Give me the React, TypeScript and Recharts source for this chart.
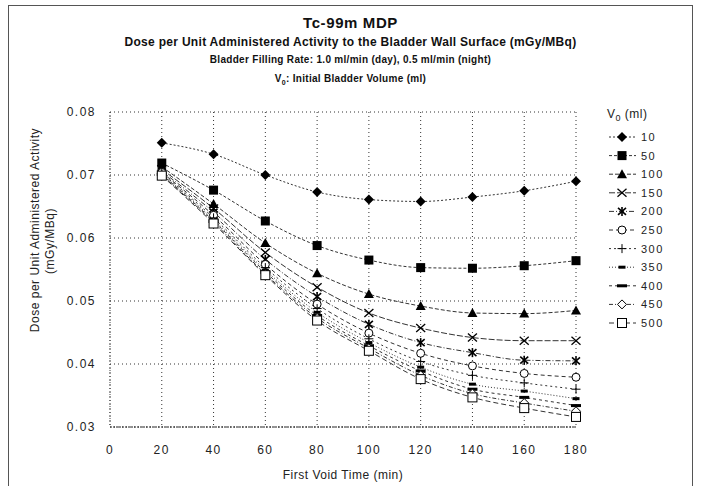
import React from 'react'
import { LineChart, Line, XAxis, YAxis, CartesianGrid, Legend } from 'recharts'

const FONT = '"Liberation Sans", Arial, Helvetica, sans-serif'

// first void time (min)
const times = [20, 40, 60, 80, 100, 120, 140, 160, 180]
const xTicks = [0, 20, 40, 60, 80, 100, 120, 140, 160, 180]
const yTicks = [0.03, 0.04, 0.05, 0.06, 0.07, 0.08]

// initial bladder volume V0 (ml)
const volumes = [10, 50, 100, 150, 200, 250, 300, 350, 400, 450, 500]

// dose per unit administered activity (mGy/MBq), one list per V0
const v10 = [0.0751, 0.0733, 0.07, 0.0673, 0.0661, 0.0658, 0.0665, 0.0675, 0.069]
const v50 = [0.0719, 0.0676, 0.0627, 0.0588, 0.0565, 0.0553, 0.0552, 0.0556, 0.0564]
const v100 = [0.0713, 0.0654, 0.0592, 0.0544, 0.0511, 0.0492, 0.0481, 0.048, 0.0485]
const v150 = [0.0709, 0.0647, 0.0577, 0.0522, 0.0481, 0.0457, 0.0442, 0.0437, 0.0437]
const v200 = [0.0706, 0.0641, 0.0566, 0.0507, 0.0463, 0.0434, 0.0418, 0.0406, 0.0405]
const v250 = [0.0704, 0.0636, 0.0558, 0.0495, 0.0449, 0.0417, 0.0397, 0.0385, 0.0379]
const v300 = [0.0703, 0.0632, 0.0553, 0.0488, 0.044, 0.0404, 0.0382, 0.037, 0.036]
const v350 = [0.0702, 0.0629, 0.0549, 0.0482, 0.0434, 0.0395, 0.0368, 0.0357, 0.0345]
const v400 = [0.0701, 0.0627, 0.0546, 0.0477, 0.0429, 0.0389, 0.036, 0.0347, 0.0334]
const v450 = [0.07, 0.0625, 0.0543, 0.0473, 0.0425, 0.0382, 0.0353, 0.0338, 0.0325]
const v500 = [0.0699, 0.0623, 0.0541, 0.0469, 0.0421, 0.0376, 0.0347, 0.033, 0.0316]

const seriesValues = [v10, v50, v100, v150, v200, v250, v300, v350, v400, v450, v500]

type MarkerKind =
  | 'diamond' | 'square' | 'triangle' | 'x' | 'star' | 'circle'
  | 'plus' | 'shortdash' | 'longdash' | 'odiamond' | 'osquare'

const markers: MarkerKind[] = [
  'diamond', 'square', 'triangle', 'x', 'star', 'circle',
  'plus', 'shortdash', 'longdash', 'odiamond', 'osquare',
]
const dashes = ['2 2', '3 2', '4 2', '6 2', '5 2 1 2', '4 3', '2 3', '1 2', '3 3', '4 2 1 2', '5 3']

const data = times.map((t, i) => {
  const row: Record<string, number> = { time: t }
  volumes.forEach((v, s) => {
    row['v' + v] = seriesValues[s][i]
  })
  return row
})

function Marker({ kind, cx, cy }: { kind: MarkerKind; cx: number; cy: number }) {
  const k = '#000'
  switch (kind) {
    case 'diamond':
      return <path d={`M${cx},${cy - 5}L${cx + 5},${cy}L${cx},${cy + 5}L${cx - 5},${cy}Z`} fill={k} />
    case 'square':
      return <rect x={cx - 4.5} y={cy - 4.5} width={9} height={9} fill={k} />
    case 'triangle':
      return <path d={`M${cx},${cy - 5}L${cx + 5},${cy + 4}L${cx - 5},${cy + 4}Z`} fill={k} />
    case 'x':
      return (
        <g stroke={k} strokeWidth={1.3}>
          <line x1={cx - 4.5} y1={cy - 4} x2={cx + 4.5} y2={cy + 4} />
          <line x1={cx - 4.5} y1={cy + 4} x2={cx + 4.5} y2={cy - 4} />
        </g>
      )
    case 'star':
      return (
        <g stroke={k} strokeWidth={1.6}>
          <line x1={cx - 4} y1={cy - 3.5} x2={cx + 4} y2={cy + 3.5} />
          <line x1={cx - 4} y1={cy + 3.5} x2={cx + 4} y2={cy - 3.5} />
          <line x1={cx} y1={cy - 4.5} x2={cx} y2={cy + 4.5} />
        </g>
      )
    case 'circle':
      return <circle cx={cx} cy={cy} r={4} fill="#fff" stroke={k} strokeWidth={1} />
    case 'plus':
      return (
        <g stroke={k} strokeWidth={1}>
          <line x1={cx - 4.5} y1={cy} x2={cx + 4.5} y2={cy} />
          <line x1={cx} y1={cy - 4.5} x2={cx} y2={cy + 4.5} />
        </g>
      )
    case 'shortdash':
      return <rect x={cx - 3.5} y={cy - 1.5} width={7} height={3} fill={k} />
    case 'longdash':
      return <rect x={cx - 5} y={cy - 1.5} width={10} height={3} fill={k} />
    case 'odiamond':
      return <path d={`M${cx},${cy - 4.5}L${cx + 4.5},${cy}L${cx},${cy + 4.5}L${cx - 4.5},${cy}Z`} fill="#fff" stroke={k} strokeWidth={1} />
    default:
      return <rect x={cx - 4.5} y={cy - 4.5} width={9} height={9} fill="#fff" stroke={k} strokeWidth={1} />
  }
}

function LegendBox() {
  return (
    <svg width={95} height={240} style={{ display: 'block' }}>
      <text x={31} y={18} fontSize={12} fontFamily={FONT} fill="#222" letterSpacing={0.5}>
        V<tspan dy={3} fontSize={9}>0</tspan>
        <tspan dy={-3}> (ml)</tspan>
      </text>
      {volumes.map((v, i) => {
        const y = 37 + i * 18.6
        return (
          <g key={v}>
            <line x1={33} y1={y} x2={60} y2={y} stroke="#333" strokeDasharray={dashes[i]} />
            <Marker kind={markers[i]} cx={46} cy={y} />
            <text x={65} y={y + 4} fontSize={11} fontFamily={FONT} fill="#222" letterSpacing={1.5}>
              {v}
            </text>
          </g>
        )
      })}
    </svg>
  )
}

export default function App() {
  return (
    <div style={{ position: 'absolute', left: 0, top: 0, width: 701, height: 486, background: '#fff', fontFamily: FONT, color: '#111' }}>
      <div style={{ position: 'absolute', left: 8, top: 5, width: 683, height: 480, border: '1px solid #555', borderBottom: 'none' }} />
      <div style={{ position: 'absolute', left: 0, width: 701, top: 13, textAlign: 'center', fontSize: 15, fontWeight: 700, lineHeight: '20px', letterSpacing: 0.6 }}>
        Tc-99m MDP
      </div>
      <div style={{ position: 'absolute', left: 0, width: 701, top: 34, textAlign: 'center', fontSize: 12, fontWeight: 700, lineHeight: '16px', letterSpacing: 0.3 }}>
        Dose per Unit Administered Activity to the Bladder Wall Surface (mGy/MBq)
      </div>
      <div style={{ position: 'absolute', left: 0, width: 701, top: 53, textAlign: 'center', fontSize: 10, fontWeight: 700, lineHeight: '14px', letterSpacing: 0.3 }}>
        Bladder Filling Rate: 1.0 ml/min (day), 0.5 ml/min (night)
      </div>
      <div style={{ position: 'absolute', left: 0, width: 701, top: 72, textAlign: 'center', fontSize: 10, fontWeight: 700, lineHeight: '14px', letterSpacing: 0.3 }}>
        V<sub style={{ fontSize: 7 }}>0</sub>: Initial Bladder Volume (ml)
      </div>
      <div style={{ position: 'absolute', left: 0, top: 0 }}>
        <LineChart width={701} height={486} data={data} margin={{ top: 112, right: 30, bottom: 29, left: 30 }}>
          <CartesianGrid stroke="#333" strokeDasharray="1 3" />
          <XAxis
            dataKey="time"
            type="number"
            domain={[0, 180]}
            ticks={xTicks}
            height={30}
            tickLine={false}
            tickMargin={12}
            axisLine={{ stroke: '#222', strokeDasharray: '2 1' }}
            tick={{ fill: '#222', fontSize: 12, fontFamily: FONT, letterSpacing: 1.5 }}
            label={{ value: 'First Void Time (min)', position: 'insideBottom', offset: -22, fill: '#222', fontSize: 12, fontFamily: FONT, letterSpacing: 0.5 }}
          />
          <YAxis
            type="number"
            domain={[0.03, 0.08]}
            ticks={yTicks}
            width={80}
            tickLine={false}
            tickMargin={8}
            tickFormatter={(v: number) => v.toFixed(2)}
            axisLine={{ stroke: '#444', strokeDasharray: '1 2' }}
            tick={{ fill: '#222', fontSize: 12, fontFamily: FONT, letterSpacing: 1.5 }}
            label={{
              content: () => (
                <g fontFamily={FONT} fontSize={12} fill="#222">
                  <text x={39} y={230} textAnchor="middle" transform="rotate(-90 39 230)" letterSpacing={0.5}>
                    Dose per Unit Administered Activity
                  </text>
                  <text x={54} y={241} textAnchor="middle" transform="rotate(-90 54 241)" letterSpacing={0.5}>
                    (mGy/MBq)
                  </text>
                </g>
              ),
            }}
          />
          <Legend
            layout="vertical"
            align="right"
            verticalAlign="top"
            wrapperStyle={{ width: 95, top: 100 }}
            content={() => <LegendBox />}
          />
          {volumes.map((v, i) => (
            <Line
              key={v}
              dataKey={'v' + v}
              name={String(v)}
              type="monotone"
              stroke="#333"
              strokeWidth={1}
              strokeDasharray={dashes[i]}
              isAnimationActive={false}
              dot={(p: any) => <Marker key={p.index} kind={markers[i]} cx={p.cx} cy={p.cy} />}
              activeDot={false}
            />
          ))}
        </LineChart>
      </div>
    </div>
  )
}
